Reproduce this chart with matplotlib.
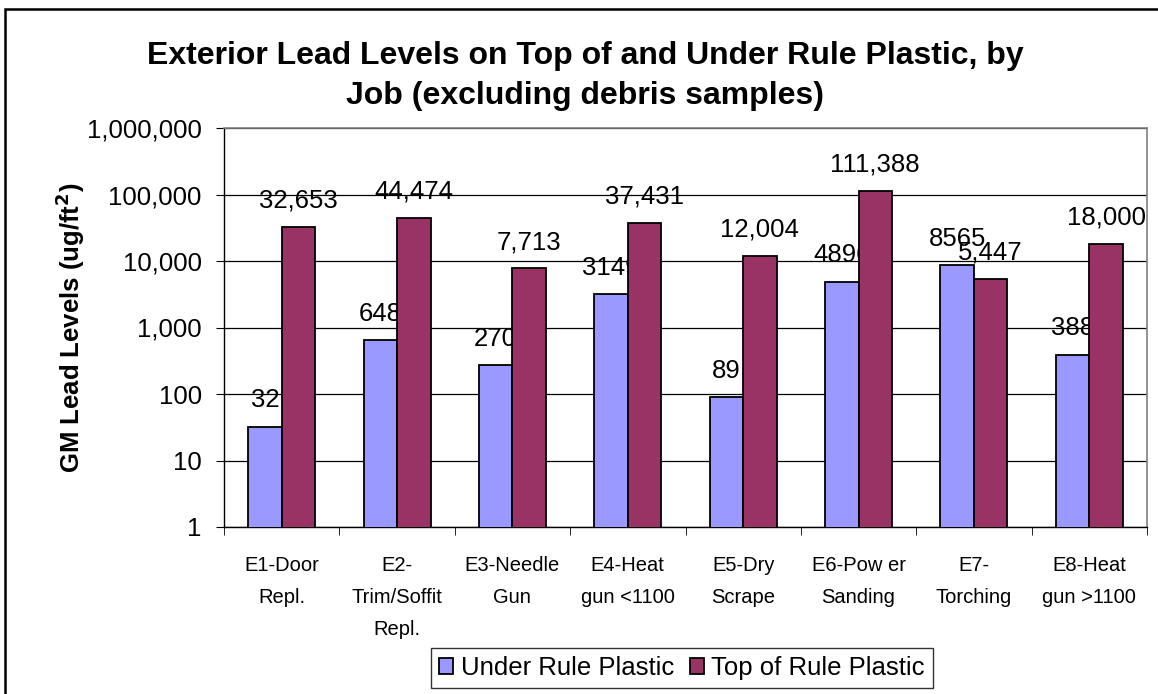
import matplotlib
matplotlib.use("Agg")
import matplotlib.pyplot as plt
import numpy as np
from matplotlib.patches import Rectangle
from matplotlib.ticker import FixedLocator, NullLocator

plt.rcParams['font.family'] = ['Liberation Sans', 'DejaVu Sans']

categories = ["E1-Door\nRepl.", "E2-\nTrim/Soffit\nRepl.", "E3-Needle\nGun", "E4-Heat\ngun <1100",
              "E5-Dry\nScrape", "E6-Pow er\nSanding", "E7-\nTorching", "E8-Heat\ngun >1100"]
under_vals = [32, 648, 270, 3149, 89, 4896, 8565, 388]
under_labels = ["32", "648", "270", "3149", "89", "4896", "8565", "388"]
top_vals = [32653, 44474, 7713, 37431, 12004, 111388, 5447, 18000]
top_labels = ["32,653", "44,474", "7,713", "37,431", "12,004", "111,388", "5,447", "18,000"]
yticks = [1, 10, 100, 1000, 10000, 100000, 1000000]
ytick_labels = ["1", "10", "100", "1,000", "10,000", "100,000", "1,000,000"]

W, H = 1158, 694
fig = plt.figure(figsize=(W / 100, H / 100), dpi=100)
fig.patch.set_facecolor("white")

# outer chart border
fig.patches.append(Rectangle((5 / W, -0.1), 1.2, 1 - 9 / H + 0.1, transform=fig.transFigure,
                             fill=False, edgecolor="black", linewidth=1.8))

ax = fig.add_axes([224 / W, 1 - 527 / H, (1147 - 224) / W, (527 - 128) / H])
ax.set_yscale("log")
ax.set_ylim(1, 1e6)
x = np.arange(len(categories))
bw = 0.29
ax.set_xlim(-0.5, len(categories) - 0.5)

b1 = ax.bar(x - bw / 2, under_vals, bw, color="#9999FF", edgecolor="black", linewidth=1.3,
            zorder=3, label="Under Rule Plastic")
b2 = ax.bar(x + bw / 2, top_vals, bw, color="#993366", edgecolor="black", linewidth=1.3,
            zorder=5, label="Top of Rule Plastic")

for xi, v, t in zip(x, under_vals, under_labels):
    ax.annotate(t, (xi - bw / 2, v), xytext=(0, 14), textcoords="offset points",
                ha="center", va="baseline", fontsize=18.5, zorder=4, annotation_clip=False)
for xi, v, t in zip(x, top_vals, top_labels):
    ax.annotate(t, (xi + bw / 2, v), xytext=(0, 14), textcoords="offset points",
                ha="center", va="baseline", fontsize=18.5, zorder=6, annotation_clip=False)

ax.yaxis.set_major_locator(FixedLocator(yticks))
ax.yaxis.set_minor_locator(NullLocator())
ax.set_yticklabels(ytick_labels, fontsize=18.5)
ax.grid(axis="y", color="black", linewidth=0.9, zorder=1)
ax.set_axisbelow(True)

ax.set_xticks(x)
ax.set_xticklabels(categories, fontsize=14.5, linespacing=1.85, va="top")
ax.xaxis.set_minor_locator(FixedLocator(np.arange(-0.5, len(categories), 1.0)))
ax.tick_params(axis="x", which="major", length=0, pad=21)
ax.tick_params(axis="x", which="minor", length=6, direction="out", color="black")
ax.tick_params(axis="y", which="major", length=6, direction="out", color="black", pad=10)

for s in ["top", "right"]:
    ax.spines[s].set_color("#808080")
    ax.spines[s].set_linewidth(1.2)
for s in ["left", "bottom"]:
    ax.spines[s].set_color("black")
    ax.spines[s].set_linewidth(1.0)

ax.set_ylabel("GM Lead Levels (ug/ft$^{\\mathbf{2}}$)", fontsize=18.5, fontweight="bold", labelpad=0)

fig.text(585 / W, 1 - 76 / H, "Exterior Lead Levels on Top of and Under Rule Plastic, by\nJob (excluding debris samples)",
         ha="center", va="center", fontsize=23, fontweight="bold", linespacing=1.45)

leg = fig.legend(handles=[b1, b2], loc="center", bbox_to_anchor=(682 / W, 1 - 668 / H), ncol=2,
                 fontsize=18.5, frameon=True, fancybox=False, edgecolor="black", handlelength=0.55,
                 handleheight=0.55, handletextpad=0.3, columnspacing=0.6, borderpad=0.3)
leg.get_frame().set_linewidth(1.0)

fig.savefig("out.png", dpi=100, facecolor="white")
